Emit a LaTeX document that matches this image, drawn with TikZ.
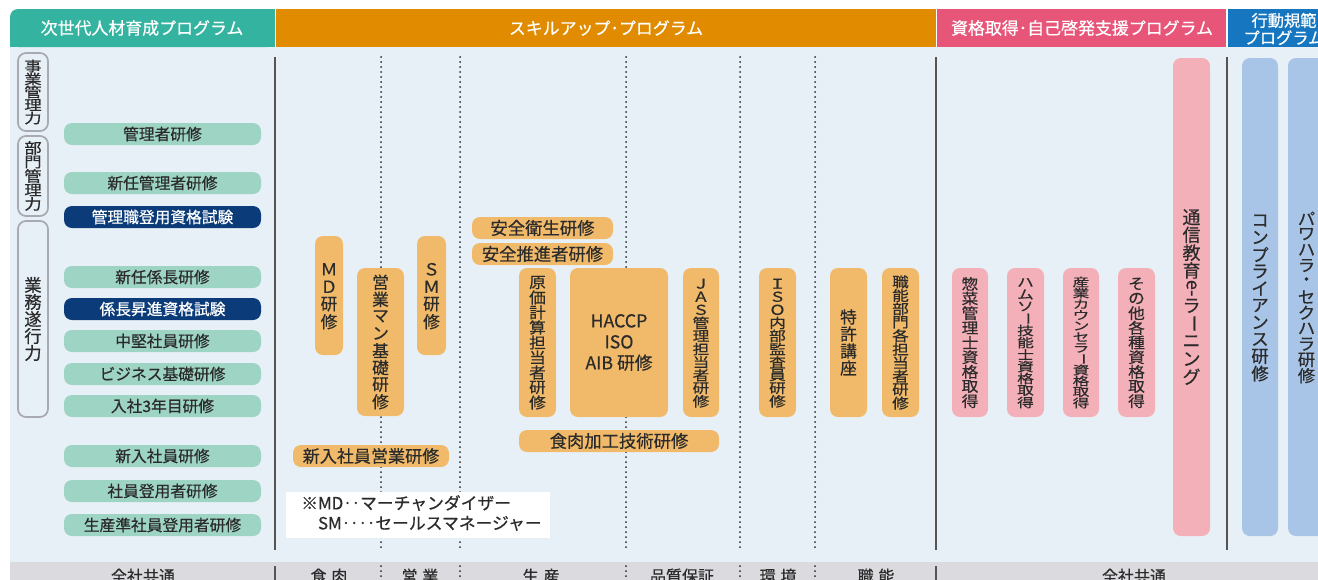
\documentclass[tikz,border=0pt]{standalone}
\usepackage{fontspec}
\setmainfont{Noto Sans CJK JP}[FakeBold=0.5]
\usepackage{graphicx}
\definecolor{bg}{HTML}{E8F0F7}
\definecolor{hteal}{HTML}{34B4A0}
\definecolor{horange}{HTML}{E18C00}
\definecolor{hpink}{HTML}{E75579}
\definecolor{hblue}{HTML}{1677C0}
\definecolor{gfill}{HTML}{9DD4C3}
\definecolor{navy}{HTML}{0B3C79}
\definecolor{ofill}{HTML}{F0BA6A}
\definecolor{pfill}{HTML}{F4B0B8}
\definecolor{bfill}{HTML}{A8C4E6}
\definecolor{band}{HTML}{DADADF}
\definecolor{divider}{HTML}{555555}
\definecolor{catline}{HTML}{A9A9B1}
\definecolor{txt}{HTML}{2B2B2B}
\ExplSyntaxOn
\NewDocumentCommand\vtext{O{12pt}O{1}m}{
  \vbox{
    \offinterlineskip
    \tl_map_inline:nn {#3} {
      \hbox_to_wd:nn {1.2em} { \hss \vbox_to_ht:nn {#1} { \vss \hbox:n {\scalebox{1}[#2]{##1}} \vss } \hss }
    }
  }
}
\ExplSyntaxOff
\newcommand\vb{\rotatebox[origin=c]{-90}{ー}}
% [style]{x1}{y1}{x2}{y2}{name}{text}
\newcommand\mybox[7][]{\node[#1, minimum width={(#4-#2)*0.75pt}, minimum height={(#5-#3)*0.75pt}] (#6) at ({(#2+#4)/2},{(#3+#5)/2}) {#7};}
\begin{document}
\begin{tikzpicture}[x=0.75pt,y=-0.75pt,
  box/.style={inner sep=0pt, rounded corners=6pt, text=txt},
  gbox/.style={box, fill=gfill, font=\fontsize{11.8}{14}\selectfont},
  nbox/.style={box, fill=navy, text=white, font=\fontsize{11.8}{14}\selectfont},
  obox/.style={box, fill=ofill, font=\fontsize{12.5}{14}\selectfont},
  pbox/.style={box, fill=pfill, font=\fontsize{12.5}{14}\selectfont},
  bbox/.style={box, fill=bfill, font=\fontsize{13}{14}\selectfont},
  cat/.style={inner sep=0pt, rounded corners=6pt, draw=catline, line width=1.3pt, fill=bg, text=txt, font=\fontsize{13}{14}\selectfont},
  htext/.style={text=white, inner sep=0pt, font=\fontsize{12.7}{15}\selectfont},
  btext/.style={text=txt, inner sep=0pt, font=\fontsize{12}{14}\selectfont},
  solidline/.style={draw=divider, line width=0.9pt},
  dotline/.style={draw=txt, line width=1.5pt, line cap=round, dash pattern=on 0pt off 3.75pt}
]
\clip (0,0) rectangle (1318,579);
\useasboundingbox (0,0) rectangle (1318,579);
\fill[white] (0,0) rectangle (1318,579);
% body and band
\fill[bg] (10,47) rectangle (1330,562);
\fill[band] (10,562) rectangle (1330,590);
% headers
\fill[hteal, rounded corners=6pt] (10,9) rectangle (275,47);
\fill[hteal] (10,30) rectangle (275,47);
\fill[hteal] (200,9) rectangle (275,47);
\fill[horange] (276,9) rectangle (936,47);
\fill[hpink] (937,9) rectangle (1226,47);
\fill[hblue] (1228,9) rectangle (1330,47);
\node[htext] (h1) at (142,28) {次世代人材育成プログラム};
\node[htext] (h2) at (606,28) {スキルアップ･プログラム};
\node[htext] (h3) at (1082,28) {資格取得･自己啓発支援プログラム};
\node[htext, align=center, font=\fontsize{12.2}{13}\selectfont] (h4) at (1284,29) {行動規範\\プログラム};
% dividers
\foreach \x in {275,936,1227} \draw[solidline] (\x,57) -- (\x,550);
\foreach \x in {275,936} \draw[solidline] (\x,566) -- (\x,590);
\foreach \x in {381,460,626,740,815} {
  \draw[dotline] (\x,57) -- (\x,552);
  \draw[dotline] (\x,566) -- (\x,590);
}
% category labels
\mybox[cat]{18}{53}{48}{131}{c1}{\vtext[9.75pt][0.8]{事業管理力}}
\mybox[cat]{18}{136}{48}{216}{c2}{\vtext[10.5pt][0.85]{部門管理力}}
\mybox[cat]{18}{221}{48}{417}{c3}{\vtext[12.75pt]{業務遂行力}}
% left boxes
\mybox[gbox]{64}{123}{261}{145}{g1}{管理者研修}
\mybox[gbox]{64}{172}{261}{194}{g2}{新任管理者研修}
\mybox[nbox]{64}{206}{261}{228}{n1}{管理職登用資格試験}
\mybox[gbox]{64}{266}{261}{288}{g3}{新任係長研修}
\mybox[nbox]{64}{298}{261}{320}{n2}{係長昇進資格試験}
\mybox[gbox]{64}{330}{261}{352}{g4}{中堅社員研修}
\mybox[gbox]{64}{363}{261}{385}{g5}{ビジネス基礎研修}
\mybox[gbox]{64}{395}{261}{417}{g6}{入社3年目研修}
\mybox[gbox]{64}{445}{261}{467}{g7}{新入社員研修}
\mybox[gbox]{64}{480}{261}{502}{g8}{社員登用者研修}
\mybox[gbox]{64}{514}{261}{536}{g9}{生産準社員登用者研修}
% skill up
\mybox[obox]{315}{236}{343}{355}{md}{\vtext[13.1pt]{ＭＤ研修}}
\mybox[obox]{357}{268}{404}{416}{eig}{\vtext[12.8pt]{営業マン基礎研修}}
\mybox[obox]{417}{236}{446}{355}{sm}{\vtext[13.1pt]{ＳＭ研修}}
\mybox[obox, font=\fontsize{12.8}{14}\selectfont]{293}{445}{449}{467}{shin}{新入社員営業研修}
\mybox[obox, font=\fontsize{13}{14}\selectfont]{472}{217}{613}{239}{anz1}{安全衛生研修}
\mybox[obox, font=\fontsize{13}{14}\selectfont]{472}{243}{613}{265}{anz2}{安全推進者研修}
\mybox[obox]{519}{268}{556}{417}{gen}{\vtext[11.25pt][0.92]{原価計算担当者研修}}
\mybox[obox, align=center, font=\fontsize{13.3}{15.75}\selectfont]{570}{268}{668}{417}{hac}{HACCP\\ISO\\AIB 研修}
\mybox[obox]{683}{268}{719}{417}{jas}{\vtext[9.8pt][0.82]{ＪＡＳ管理担当者研修}}
\mybox[obox, font=\fontsize{13}{14}\selectfont]{519}{430}{719}{452}{shoku}{食肉加工技術研修}
\mybox[obox]{759}{268}{796}{417}{iso}{\vtext[9.8pt][0.82]{ＩＳＯ内部監査員研修}}
\mybox[obox]{830}{268}{867}{417}{tok}{\vtext[12.75pt]{特許講座}}
\mybox[obox]{882}{268}{919}{417}{shok}{\vtext[10.1pt][0.85]{職能部門各担当者研修}}
% qualification
\mybox[pbox]{952}{268}{988}{417}{p1}{\vtext[11pt][0.9]{惣菜管理士資格取得}}
\mybox[pbox]{1007}{268}{1044}{417}{p2}{\vtext[9pt][0.75]{ハムソ{\vb}技能士資格取得}}
\mybox[pbox]{1063}{268}{1099}{417}{p3}{\vtext[8.25pt][0.7]{産業カウンセラ{\vb}資格取得}}
\mybox[pbox]{1118}{268}{1155}{417}{p4}{\vtext[11pt][0.9]{その他各種資格取得}}
\mybox[pbox, font=\fontsize{13.5}{14}\selectfont]{1173}{58}{1210}{536}{p5}{\vtext[13.3pt]{通信教育{\rotatebox{-90}{e-}}ラ{\vb}ニング}}
% conduct
\mybox[bbox]{1242}{58}{1278}{536}{b1}{\vtext[12.75pt]{コンプライアンス研修}}
\mybox[bbox]{1288}{58}{1325}{536}{b2}{\vtext[11.8pt][0.95]{パワハラ・セクハラ研修}}
% note
\mybox[fill=white, inner sep=0pt]{286}{492}{550}{538}{note}{}
\node[anchor=west, align=left, text=txt, inner sep=0pt, font=\fontsize{12.6}{15}\selectfont] (notetext) at (301,513) {※MD‥マーチャンダイザー\\\phantom{※}SM‥‥セールスマネージャー};
% bottom labels
\node[btext] (bt1) at (143,576) {全社共通};
\node[btext] (bt2) at (329,576) {食\hspace{0.3em}肉};
\node[btext] (bt3) at (420,576) {営\hspace{0.3em}業};
\node[btext] (bt4) at (541,576) {生\hspace{0.3em}産};
\node[btext] (bt5) at (682,576) {品質保証};
\node[btext] (bt6) at (778,576) {環\hspace{0.3em}境};
\node[btext] (bt7) at (876,576) {職\hspace{0.3em}能};
\node[btext] (bt8) at (1134,576) {全社共通};
\end{tikzpicture}
\end{document}
